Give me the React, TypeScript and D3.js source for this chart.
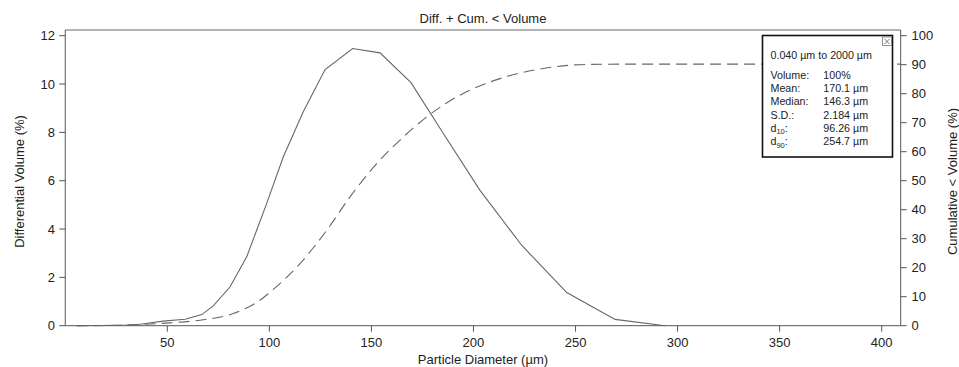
import React from "react";
import * as d3 from "d3";

// Differential volume (%) vs particle diameter (µm)
const diffSizes = [5.6, 12, 18, 24, 30, 36.6, 42, 48.0, 58.7, 66.9, 72.5, 80.7, 88.9, 98.7, 106.8, 116.6, 127.3, 140.8, 154.2, 169.4, 185.7, 203.2, 223.6, 245.7, 269.4, 293.9];
const diffValues = [0, 0.01, 0.01, 0.02, 0.03, 0.06, 0.12, 0.19, 0.27, 0.46, 0.82, 1.6, 2.85, 5.06, 6.98, 8.85, 10.6, 11.47, 11.29, 10.06, 7.89, 5.6, 3.33, 1.37, 0.26, 0.0];

// Cumulative < volume (%)
const cumSizes = [5.6, 20, 30, 36.6, 51.3, 66.1, 82.3, 95.4, 101.9, 115, 128.1, 139.5, 152.6, 164, 177.1, 193.4, 213, 234.2, 255.5, 280, 409];
const cumValues = [0, 0.05, 0.15, 0.4, 0.97, 1.9, 4.2, 8.8, 12.5, 21.4, 32.9, 44.4, 55.9, 64, 72, 79.5, 85.2, 88.7, 90.1, 90.2, 90.2];

const xTicks = [50, 100, 150, 200, 250, 300, 350, 400];
const leftTicks = [0, 2, 4, 6, 8, 10, 12];
const rightTicks = [0, 10, 20, 30, 40, 50, 60, 70, 80, 90, 100];

const title = "Diff. + Cum. < Volume";
const xLabel = "Particle Diameter (µm)";
const leftLabel = "Differential Volume (%)";
const rightLabel = "Cumulative < Volume (%)";

const statsRange = "0.040 µm to 2000 µm";
const statLabels = ["Volume:", "Mean:", "Median:", "S.D.:", "d|10|:", "d|90|:"];
const statValues = ["100%", "170.1 µm", "146.3 µm", "2.184 µm", "96.26 µm", "254.7 µm"];

const W = 959;
const H = 367;
const FONT = "'Liberation Sans', Arial, sans-serif";

export default function App() {
  const left = 65.25;
  const right = 900.7;
  const top = 30;
  const bottom = 325.7;

  const x = d3.scaleLinear().domain([0, 400]).range([left, 881.7]);
  const yL = d3.scaleLinear().domain([0, 12]).range([bottom, 35.7]);
  const yR = d3.scaleLinear().domain([0, 100]).range([bottom, 35.7]);

  const diffLine = d3
    .line<number>()
    .x((_, i) => x(diffSizes[i]))
    .y((d) => yL(d));
  const cumLine = d3
    .line<number>()
    .curve(d3.curveMonotoneX)
    .x((_, i) => x(cumSizes[i]))
    .y((d) => yR(d));

  const axisColor = "#555";
  const textColor = "#222";
  const lineColor = "#666";

  const boxX = 762.5;
  const boxY = 35.5;
  const boxW = 130;
  const boxH = 121.5;
  const rowBase = [79, 92.2, 105.4, 118.6, 131.8, 145];

  return (
    <svg
      width={W}
      height={H}
      style={{ position: "absolute", left: 0, top: 0, background: "#fff" }}
      fontFamily={FONT}
    >
      <rect x={0} y={0} width={W} height={H} fill="#fff" />
      {/* title */}
      <text x={(left + right) / 2} y={22.5} textAnchor="middle" fontSize={13} fill={textColor}>
        {title}
      </text>

      {/* frame */}
      <line x1={left} x2={right} y1={top} y2={top} stroke="#666" strokeWidth={1} />
      <line x1={left} x2={left} y1={top} y2={bottom} stroke={axisColor} strokeWidth={1} />
      <line x1={right} x2={right} y1={top} y2={bottom} stroke={axisColor} strokeWidth={1} />
      <line x1={left} x2={right} y1={bottom} y2={bottom} stroke={axisColor} strokeWidth={1} />

      {/* x ticks */}
      {xTicks.map((t) => (
        <g key={"x" + t}>
          <line x1={x(t)} x2={x(t)} y1={bottom} y2={bottom + 6} stroke={axisColor} />
          <text x={x(t)} y={347.3} textAnchor="middle" fontSize={13} fill={textColor}>
            {t}
          </text>
        </g>
      ))}
      <text x={(left + right) / 2} y={363.5} textAnchor="middle" fontSize={13} fill={textColor}>
        {xLabel}
      </text>

      {/* left ticks */}
      {leftTicks.map((t) => (
        <g key={"l" + t}>
          <line x1={left - 6} x2={left} y1={yL(t)} y2={yL(t)} stroke={axisColor} />
          <text x={55} y={yL(t)} dy="0.36em" textAnchor="end" fontSize={13} fill={textColor}>
            {t}
          </text>
        </g>
      ))}
      <text
        transform={`translate(19,181.5) rotate(-90)`}
        dy="0.36em"
        textAnchor="middle"
        fontSize={13}
        fill={textColor}
      >
        {leftLabel}
      </text>

      {/* right ticks */}
      {rightTicks.map((t) => (
        <g key={"r" + t}>
          <line x1={right} x2={right + 6} y1={yR(t)} y2={yR(t)} stroke={axisColor} />
          <text x={911.5} y={yR(t)} dy="0.36em" textAnchor="start" fontSize={13} fill={textColor}>
            {t}
          </text>
        </g>
      ))}
      <text
        transform={`translate(952.5,181.5) rotate(-90)`}
        dy="0.36em"
        textAnchor="middle"
        fontSize={13}
        fill={textColor}
      >
        {rightLabel}
      </text>

      {/* curves */}
      <path d={cumLine(cumValues) || ""} fill="none" stroke={lineColor} strokeWidth={1.1} strokeDasharray="11,6" />
      <path d={diffLine(diffValues) || ""} fill="none" stroke={lineColor} strokeWidth={1.1} />

      {/* statistics box */}
      <rect x={boxX} y={boxY} width={boxW} height={boxH} fill="#fff" stroke="#111" strokeWidth={1.6} />
      <rect x={882.5} y={37} width={9} height={8.5} fill="#fff" stroke="#777" strokeWidth={0.8} />
      <path d="M884.5,39 L889.5,44 M889.5,39 L884.5,44" stroke="#555" strokeWidth={0.8} />
      <text x={770.5} y={59.3} fontSize={10.7} fill={textColor}>
        {statsRange}
      </text>
      {statLabels.map((lab, i) => {
        const parts = lab.split("|");
        return (
          <g key={"s" + i}>
            <text x={770.5} y={rowBase[i]} fontSize={10.7} fill={textColor}>
              {parts.length === 3 ? (
                <>
                  {parts[0]}
                  <tspan fontSize={7.5} dy={2.5}>
                    {parts[1]}
                  </tspan>
                  <tspan dy={-2.5}>{parts[2]}</tspan>
                </>
              ) : (
                lab
              )}
            </text>
            <text x={823.3} y={rowBase[i]} fontSize={10.7} fill={textColor}>
              {statValues[i]}
            </text>
          </g>
        );
      })}
    </svg>
  );
}
